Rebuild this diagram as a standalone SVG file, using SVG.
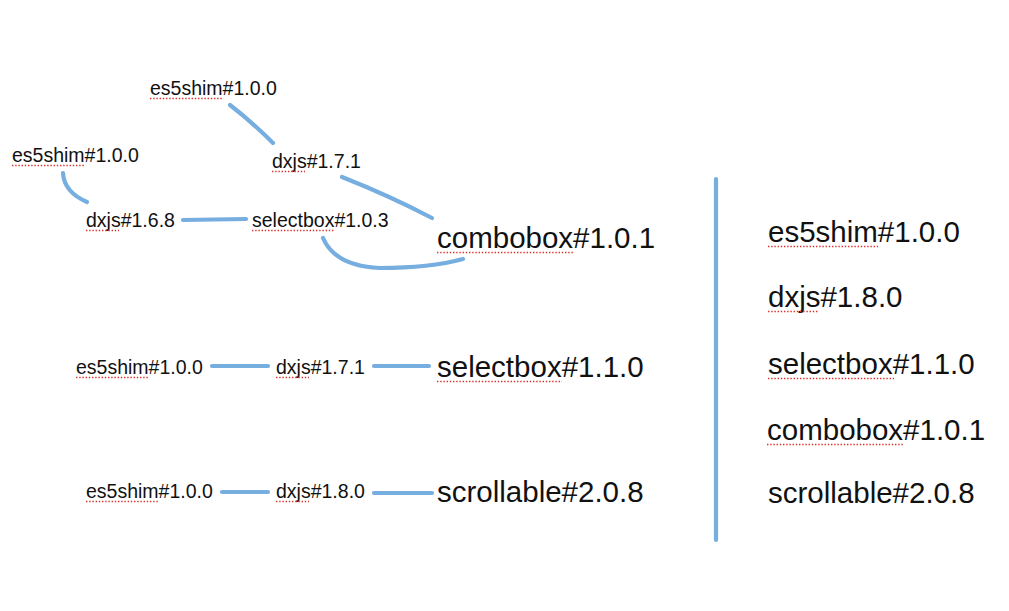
<svg xmlns="http://www.w3.org/2000/svg" width="1009" height="611" viewBox="0 0 1009 611">
<defs>
<style>
text{font-family:"Liberation Sans",Arial,Helvetica,sans-serif;fill:#111}
.s{font-size:19.5px}
.l{font-size:29.5px}
.c{fill:none;stroke:#76aee0;stroke-width:4.2;stroke-linecap:round;stroke-linejoin:round}
.u{stroke:#d8332c;stroke-width:1.6;stroke-dasharray:1.4 1.8;fill:none}
</style>
</defs>
<rect width="1009" height="611" fill="#fff"/>
<g id="connectors">
<path class="c" d="M230,105 Q252,122 273,143"/>
<path class="c" d="M342,177 Q390,196 432,218"/>
<path class="c" d="M63,173 Q64,192 87,202"/>
<path class="c" d="M183,220 L246,219"/>
<path class="c" d="M323,238 Q335,266 380,268 Q430,268 463,259"/>
<path class="c" d="M212,366 L268,366"/>
<path class="c" d="M374,366 L429,366"/>
<path class="c" d="M222,492 L268,492"/>
<path class="c" d="M374,493 L432,493"/>
<path class="c" d="M716,179 L716,540"/>
</g>
<g id="n-es5shim-top"><text class="s" x="150" y="95">es5shim#1.0.0</text><line class="u" x1="150" y1="98.5" x2="223" y2="98.5"/></g>
<g id="n-es5shim-left"><text class="s" x="12" y="162">es5shim#1.0.0</text><line class="u" x1="12" y1="165.5" x2="85" y2="165.5"/></g>
<g id="n-dxjs171-top"><text class="s" x="272" y="168">dxjs#1.7.1</text><line class="u" x1="272" y1="171.5" x2="305" y2="171.5"/></g>
<g id="n-dxjs168"><text class="s" x="86" y="227">dxjs#1.6.8</text><line class="u" x1="86" y1="230.5" x2="119" y2="230.5"/></g>
<g id="n-selectbox103"><text class="s" x="252" y="227">selectbox#1.0.3</text><line class="u" x1="252" y1="230.5" x2="334" y2="230.5"/></g>
<g id="n-combobox101"><text class="l" x="437" y="248">combobox#1.0.1</text><line class="u" x1="437" y1="252.5" x2="573" y2="252.5"/></g>
<g id="n-es5shim-r2"><text class="s" x="76" y="374">es5shim#1.0.0</text><line class="u" x1="76" y1="377.5" x2="149" y2="377.5"/></g>
<g id="n-dxjs171-r2"><text class="s" x="276" y="374">dxjs#1.7.1</text><line class="u" x1="276" y1="377.5" x2="309" y2="377.5"/></g>
<g id="n-selectbox110"><text class="l" x="437" y="377">selectbox#1.1.0</text><line class="u" x1="437" y1="381.5" x2="562" y2="381.5"/></g>
<g id="n-es5shim-r3"><text class="s" x="86" y="498">es5shim#1.0.0</text><line class="u" x1="86" y1="501.5" x2="159" y2="501.5"/></g>
<g id="n-dxjs180-r3"><text class="s" x="276" y="498">dxjs#1.8.0</text><line class="u" x1="276" y1="501.5" x2="309" y2="501.5"/></g>
<g id="n-scrollable208"><text class="l" x="437" y="502">scrollable#2.0.8</text></g>
<g id="list">
<g id="r-es5shim"><text class="l" x="768" y="242">es5shim#1.0.0</text><line class="u" x1="768" y1="246.5" x2="878" y2="246.5"/></g>
<g id="r-dxjs"><text class="l" x="768" y="307">dxjs#1.8.0</text><line class="u" x1="768" y1="311.5" x2="819" y2="311.5"/></g>
<g id="r-selectbox"><text class="l" x="768" y="374">selectbox#1.1.0</text><line class="u" x1="768" y1="378.5" x2="894" y2="378.5"/></g>
<g id="r-combobox"><text class="l" x="767" y="440">combobox#1.0.1</text><line class="u" x1="767" y1="444.5" x2="904" y2="444.5"/></g>
<g id="r-scrollable"><text class="l" x="768" y="503">scrollable#2.0.8</text></g>
</g>
</svg>
